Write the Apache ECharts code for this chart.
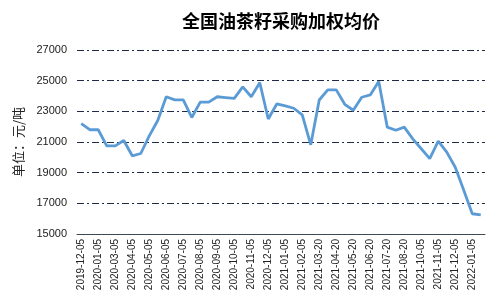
<!DOCTYPE html>
<html><head><meta charset="utf-8">
<script src="https://cdn.jsdelivr.net/npm/echarts@6/dist/echarts.min.js"></script>
<style>html,body{margin:0;padding:0;background:#fff}#c{width:501px;height:304px}</style>
</head><body><div id="c"></div>
<script>
const titleText = '全国油茶籽采购加权均价';
const yAxisName = '单位：元/吨';
const categories = [
 '2019-12-05','2019-12-20','2020-01-05','2020-02-20','2020-03-05','2020-03-20','2020-04-05','2020-04-20',
 '2020-05-05','2020-05-20','2020-06-05','2020-06-20','2020-07-05','2020-07-20','2020-08-05','2020-08-20',
 '2020-09-05','2020-09-20','2020-10-05','2020-10-20','2020-11-05','2020-11-20','2020-12-05','2020-12-20',
 '2021-01-05','2021-01-20','2021-02-05','2021-03-05','2021-03-20','2021-04-05','2021-04-20','2021-05-05',
 '2021-05-20','2021-06-05','2021-06-20','2021-07-05','2021-07-20','2021-08-05','2021-08-20','2021-09-20',
 '2021-10-05','2021-10-20','2021-11-05','2021-11-20','2021-12-05','2021-12-20','2022-01-05','2022-01-20'
];
const prices = [
 22200,21800,21800,20750,20750,21100,20100,20250,
 21400,22400,23950,23750,23750,22600,23600,23600,
 23950,23900,23850,24600,23950,24870,22500,23480,
 23350,23200,22770,20820,23740,24400,24400,23460,
 23070,23920,24070,24940,21970,21770,21970,21200,
 20560,19920,21050,20340,19350,17850,16320,16240
];
const yMin = 15000, yMax = 27000, yStep = 2000;

const chart = echarts.init(document.getElementById('c'));
chart.setOption({
  animation: false,
  title: { text: titleText, left: 276, top: 7, textAlign: 'center',
    textStyle: { fontFamily: 'Noto Sans CJK SC', fontWeight: 'bold', fontSize: 18, color: '#000' } },
  grid: { left: 77, right: 16, top: 50, bottom: 70 },
  xAxis: {
    type: 'category', data: categories, boundaryGap: true,
    axisLine: { lineStyle: { color: '#404a55', width: 1 } },
    axisTick: { interval: 0, length: 5, lineStyle: { color: '#404a55' } },
    axisLabel: { interval: 1, rotate: 90, fontSize: 10, color: '#222', margin: 5,
      fontFamily: 'Liberation Sans' }
  },
  yAxis: {
    type: 'value', min: yMin, max: yMax, interval: yStep,
    name: yAxisName, nameLocation: 'middle', nameGap: 52, nameRotate: 90,
    nameTextStyle: { fontFamily: 'Noto Sans CJK SC', fontSize: 13, color: '#222' },
    axisLine: { show: false }, axisTick: { show: false },
    axisLabel: { fontSize: 11, color: '#222', margin: 10, fontFamily: 'Liberation Sans',
      formatter: v => String(v) },
    splitLine: { lineStyle: { color: '#1f2a44', width: 1, type: [7, 3, 2, 3] } }
  },
  series: [{
    type: 'line', data: prices, symbol: 'none',
    lineStyle: { color: '#5b9bd5', width: 2.8 }
  }]
});
</script></body></html>
